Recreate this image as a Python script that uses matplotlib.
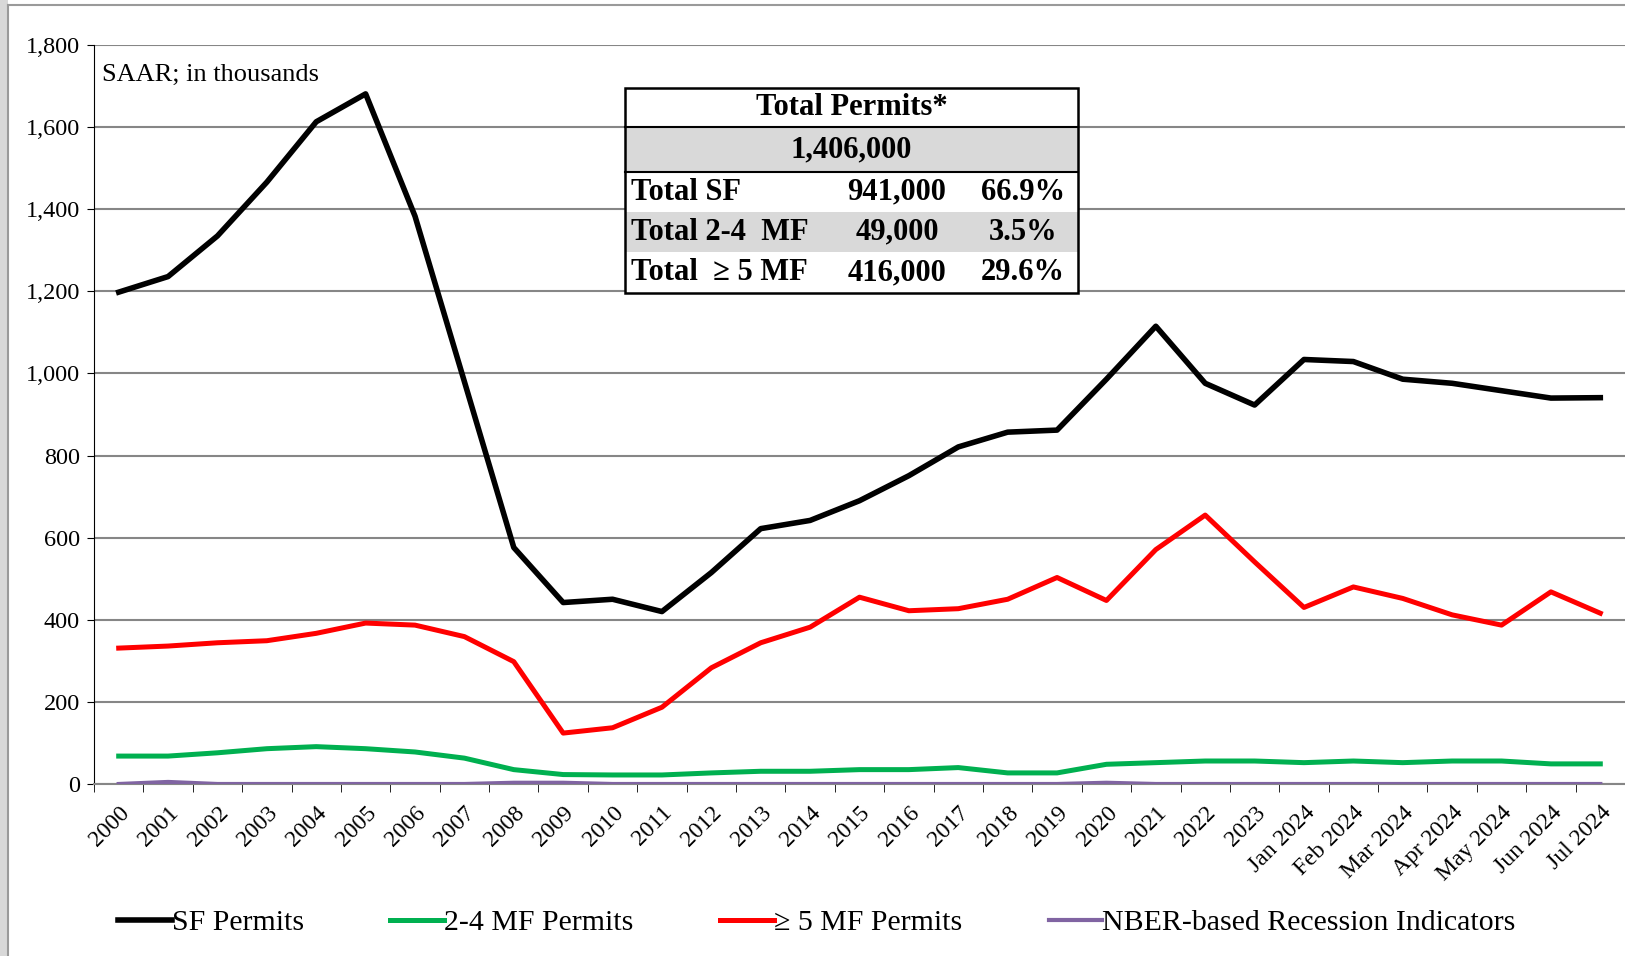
import numpy as np
import matplotlib.pyplot as plt
from matplotlib.patches import Rectangle

## values (thousands of units, SAAR)
LABELS = [str(y) for y in range(2000, 2024)] + [
    "Jan 2024", "Feb 2024", "Mar 2024", "Apr 2024", "May 2024", "Jun 2024", "Jul 2024"]

SF_PERMITS = [1198, 1236, 1335, 1466, 1613, 1681, 1383, 980, 576, 442, 450, 420,
              515, 622, 642, 690, 751, 821, 857, 862, 986, 1115, 976, 923,
              1034, 1029, 986, 976, 958, 940, 941]
MF24_PERMITS = [68, 68, 76, 86, 91, 86, 78, 63, 35, 23, 22, 22,
                27, 31, 31, 35, 35, 40, 27, 27, 48, 52, 56, 56,
                52, 56, 52, 56, 56, 49, 49]
MF5_PERMITS = [331, 336, 344, 349, 367, 392, 387, 359, 298, 124, 137, 187,
               283, 344, 382, 455, 422, 427, 450, 503, 447, 571, 655, 541,
               430, 480, 452, 412, 387, 468, 416]
NBER = [0, 5, 0, 0, 0, 0, 0, 0, 3, 3, 0, 0,
        0, 0, 0, 0, 0, 0, 0, 0, 3, 0, 0, 0,
        0, 0, 0, 0, 0, 0, 0]

TABLE_ROWS = [("Total SF", "941,000", "66.9%"),
              ("Total 2-4  MF", "49,000", "3.5%"),
              ("Total  \u2265 5 MF", "416,000", "29.6%")]

W, H = 1625, 956
plt.rcParams['font.family'] = ['Liberation Serif', 'DejaVu Serif']

fig = plt.figure(figsize=(W / 100, H / 100), dpi=100)

def fx(px):
    return px / W

def fy(py):
    return 1 - py / H

# faint frame of the original slide
fig.patches.append(Rectangle((0, 0), fx(8), 1, transform=fig.transFigure,
                             facecolor='#d8d8d8', edgecolor='none', zorder=0))
fig.add_artist(plt.Line2D([fx(8), fx(8)], [0, fy(5)], color='#9a9a9a', lw=1.5))
fig.add_artist(plt.Line2D([fx(8), 1], [fy(5), fy(5)], color='#9a9a9a', lw=1.5))

ax = fig.add_axes([fx(94), fy(784), 1 - fx(94), fy(45) - fy(784)])
x = np.arange(len(LABELS))

ax.plot(x, NBER, color='#8064a2', lw=3, label='NBER-based Recession Indicators', zorder=3)
ax.plot(x, MF24_PERMITS, color='#00b050', lw=3.6, label='2-4 MF Permits', zorder=4)
ax.plot(x, MF5_PERMITS, color='#ff0000', lw=3.6, label='\u2265 5 MF Permits', zorder=4)
ax.plot(x, SF_PERMITS, color='black', lw=4, label='SF Permits', zorder=5)

ax.set_xlim(-0.5, len(LABELS) - 0.5)
ax.set_ylim(0, 1800)
ax.set_yticks(np.arange(0, 1801, 200))
ax.set_yticklabels(['{:,}'.format(v) for v in range(0, 1801, 200)], fontsize=17.5)
ax.yaxis.grid(True, color='#868686', lw=1.5)
ax.set_axisbelow(True)

ax.set_xticks(x)
ax.set_xticklabels(LABELS, rotation=45, ha='right', va='top', rotation_mode='anchor', fontsize=17)
ax.set_xticks(np.arange(-0.5, len(LABELS)), minor=True)
ax.tick_params(axis='x', which='major', length=0, pad=13)
ax.tick_params(axis='x', which='minor', length=6, direction='out', color='black')
ax.tick_params(axis='y', length=5, pad=5)

for s in ['top', 'right']:
    ax.spines[s].set_visible(False)
ax.spines['bottom'].set_color('#868686')
ax.spines['bottom'].set_linewidth(1.5)

ax.text(0.005, 0.975, 'SAAR; in thousands', transform=ax.transAxes,
        fontsize=19, va='top', ha='left')

## summary table drawn in pixel coordinates
left, right = 625, 1078
rows_y = [88, 127, 172, 212, 252, 293]
fig.patches.append(Rectangle((fx(left), fy(rows_y[5])), fx(right - left), fy(rows_y[0]) - fy(rows_y[5]),
                             transform=fig.transFigure, facecolor='white', edgecolor='none', zorder=5))
fig.patches.append(Rectangle((fx(left), fy(rows_y[2])), fx(right - left), fy(rows_y[1]) - fy(rows_y[2]),
                             transform=fig.transFigure, facecolor='#d9d9d9', edgecolor='none', zorder=6))
fig.patches.append(Rectangle((fx(left), fy(rows_y[4])), fx(right - left), fy(rows_y[3]) - fy(rows_y[4]),
                             transform=fig.transFigure, facecolor='#d9d9d9', edgecolor='none', zorder=6))
fig.patches.append(Rectangle((fx(left), fy(rows_y[5])), fx(right - left), fy(rows_y[0]) - fy(rows_y[5]),
                             transform=fig.transFigure, facecolor='none', edgecolor='black', lw=1.8, zorder=7))
for yy in rows_y[1:3]:
    fig.add_artist(plt.Line2D([fx(left), fx(right)], [fy(yy), fy(yy)], color='black', lw=1.5, zorder=7))

mid = (left + right) / 2
fig.text(fx(mid), fy((rows_y[0] + rows_y[1]) / 2), 'Total Permits*', fontsize=22, fontweight='bold',
         ha='center', va='center', zorder=8)
fig.text(fx(mid), fy((rows_y[1] + rows_y[2]) / 2), '1,406,000', fontsize=22, fontweight='bold',
         ha='center', va='center', zorder=8)
for i, (name, val, pct) in enumerate(TABLE_ROWS):
    yc = fy((rows_y[2 + i] + rows_y[3 + i]) / 2)
    fig.text(fx(631), yc, name, fontsize=22, fontweight='bold', ha='left', va='center', zorder=8)
    fig.text(fx(897), yc, val, fontsize=22, fontweight='bold', ha='center', va='center', zorder=8)
    fig.text(fx(1023), yc, pct, fontsize=22, fontweight='bold', ha='center', va='center', zorder=8)

## legend along the bottom
handles, labels = ax.get_legend_handles_labels()
order = [3, 1, 2, 0]
fig.legend([handles[i] for i in order], [labels[i] for i in order], ncol=4,
           loc='center left', bbox_to_anchor=(fx(91), fy(923)), frameon=False,
           fontsize=21.5, handlelength=1.8, handletextpad=0.0, columnspacing=2.9)

fig.savefig('out.png', dpi=100)
